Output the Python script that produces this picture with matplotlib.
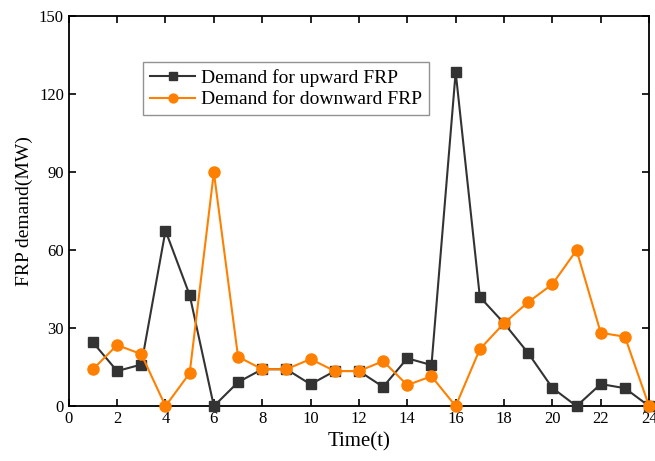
import matplotlib
matplotlib.use("Agg")
import matplotlib.pyplot as plt

plt.rcParams['font.family'] = ['Liberation Serif', 'DejaVu Serif']

# hourly FRP demand (MW)
hours = list(range(1, 25))
upward = [24.5, 13.5, 16, 67.5, 42.7, 0, 9.2, 14.2, 14.2, 8.4, 13.5, 13.5,
          7.4, 18.4, 15.8, 128.5, 42, 31.9, 20.4, 7, 0, 8.5, 6.9, 0]
downward = [14.2, 23.5, 20, 0, 12.7, 90, 19, 14.2, 14.2, 18.1, 13.5, 13.5,
            17.3, 8.1, 11.5, 0, 21.9, 31.9, 40, 46.9, 60, 28.2, 26.7, 0]
xticks = list(range(0, 25, 2))
yticks = [0, 30, 60, 90, 120, 150]

fig = plt.figure(figsize=(6.55, 4.61), dpi=100)
ax = fig.add_axes([0.105, 0.119, 0.886, 0.846])

ax.plot(hours, upward, color='#333333', marker='s', markersize=7, lw=1.5,
        label='Demand for upward FRP', clip_on=False, zorder=3)
ax.plot(hours, downward, color='#FF8000', marker='o', markersize=8, lw=1.5,
        label='Demand for downward FRP', clip_on=False, zorder=3)

ax.set_xlim(0, 24)
ax.set_ylim(0, 150)
ax.set_xticks(xticks)
ax.set_yticks(yticks)
ax.tick_params(direction='in', top=True, right=True, labelsize=12, length=5, width=1.2)
for s in ax.spines.values():
    s.set_linewidth(1.3)
ax.set_xlabel('Time(t)', fontsize=15)
ax.set_ylabel('FRP demand(MW)', fontsize=14)

leg = ax.legend(loc='upper left', bbox_to_anchor=(0.112, 0.907), fontsize=14,
                fancybox=False, edgecolor='#777777', handlelength=2.3,
                borderpad=0.35, labelspacing=0.2, handletextpad=0.3, markerscale=0.8)
leg.get_frame().set_linewidth(1.0)

fig.savefig('out.png', dpi=100)
